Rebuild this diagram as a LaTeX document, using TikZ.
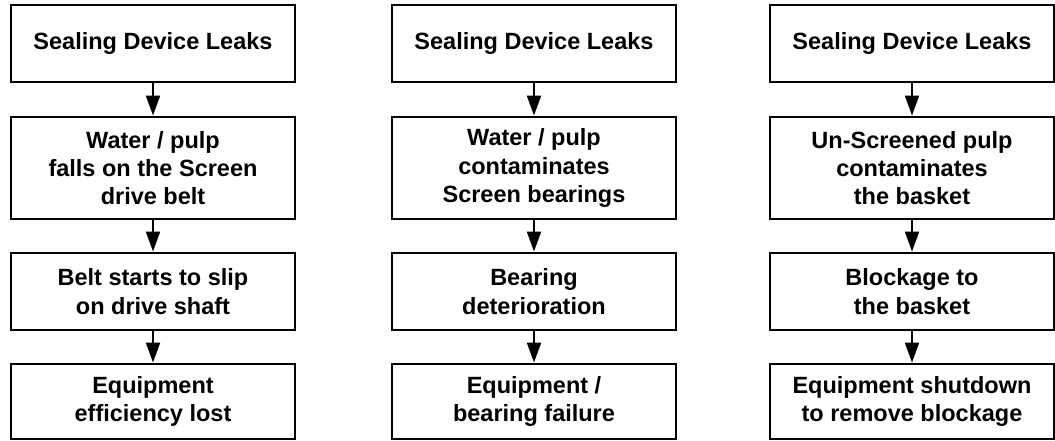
\documentclass[tikz,border=0pt]{standalone}
\usepackage{fontspec}
\setmainfont{Liberation Sans}
\usetikzlibrary{arrows.meta}

\begin{document}
\begin{tikzpicture}[x=1pt,y=-1pt,
  box/.style={draw=black,line width=2.9pt,minimum width=284pt,inner sep=0pt,align=center,
    font=\fontsize{23.5}{28.3}\selectfont\bfseries},
  link/.style={black,line width=2.2pt,-{Triangle[length=20pt,width=14pt]}}]

\useasboundingbox (0,0) rectangle (1055,441);

\node[box,minimum height=77pt] (A1) at (153,43.5) {Sealing Device Leaks};
\node[box,minimum height=102pt] (A2) at (153,168) {Water / pulp\\falls on the Screen\\drive belt};
\node[box,minimum height=77pt] (A3) at (153,291.5) {Belt starts to slip\\on drive shaft};
\node[box,minimum height=75pt] (A4) at (153,401.5) {Equipment\\efficiency lost};

\node[box,minimum height=77pt] (B1) at (534,43.5) {Sealing Device Leaks};
\node[box,minimum height=102pt] (B2) at (534,168) {Water / pulp\\contaminates\\Screen bearings};
\node[box,minimum height=77pt] (B3) at (534,291.5) {Bearing\\deterioration};
\node[box,minimum height=75pt] (B4) at (534,401.5) {Equipment /\\bearing failure};

\node[box,minimum height=77pt] (C1) at (912,43.5) {Sealing Device Leaks};
\node[box,minimum height=102pt] (C2) at (912,168) {Un-Screened pulp\\contaminates\\the basket};
\node[box,minimum height=77pt] (C3) at (912,291.5) {Blockage to\\the basket};
\node[box,minimum height=75pt] (C4) at (912,401.5) {Equipment shutdown\\to remove blockage};

\draw[link] (A1) -- (A2);
\draw[link] (A2) -- (A3);
\draw[link] (A3) -- (A4);
\draw[link] (B1) -- (B2);
\draw[link] (B2) -- (B3);
\draw[link] (B3) -- (B4);
\draw[link] (C1) -- (C2);
\draw[link] (C2) -- (C3);
\draw[link] (C3) -- (C4);

\end{tikzpicture}
\end{document}
